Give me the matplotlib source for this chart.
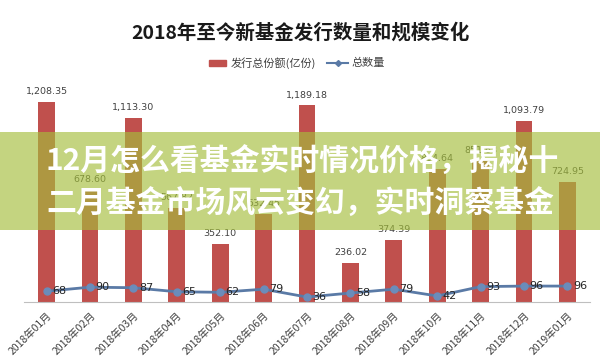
import matplotlib
matplotlib.use("Agg")
import matplotlib.pyplot as plt
from matplotlib.patches import Rectangle

plt.rcParams['font.family'] = ['Noto Sans CJK SC', 'DejaVu Sans']

months = ["2018年01月", "2018年02月", "2018年03月", "2018年04月", "2018年05月",
          "2018年06月", "2018年07月", "2018年08月", "2018年09月", "2018年10月",
          "2018年11月", "2018年12月", "2019年01月"]
share_total = [1208.35, 678.60, 1113.30, 567.82, 352.10, 532.45, 1189.18,
               236.02, 374.39, 804.64, 851.68, 1093.79, 724.95]
fund_count = [68, 90, 87, 65, 62, 79, 36, 58, 79, 42, 93, 96, 96]

title = "2018年至今新基金发行数量和规模变化"
bar_label = "发行总份额(亿份)"
line_label = "总数量"
banner_lines = ["12月怎么看基金实时情况价格，揭秘十",
                "二月基金市场风云变幻，实时洞察基金"]

W, H = 600, 363
fig = plt.figure(figsize=(W / 100, H / 100), dpi=100)
fig.patch.set_facecolor("white")

ax = fig.add_axes([24 / W, 61 / H, 566 / W, 222 / H])
x = list(range(len(months)))
bar_color = "#c0504d"
line_color = "#5a7aa6"

ax.bar(x, share_total, width=0.39, color=bar_color, zorder=2)
ax.set_xlim(-0.52, len(months) - 0.48)
ax.set_ylim(0, 1341)
for xi, v in zip(x, share_total):
    ax.annotate(f"{v:,.2f}", (xi, v), xytext=(0, 4), textcoords="offset points",
                ha="center", va="bottom", fontsize=6.8, color="#404040",
                family=["DejaVu Sans"])

for s in ["top", "left", "right"]:
    ax.spines[s].set_visible(False)
ax.spines["bottom"].set_color("#bfbfbf")
ax.set_yticks([])
ax.set_xticks(x)
ax.set_xticklabels(months, rotation=45, ha="right", rotation_mode="anchor",
                   fontsize=7.5, color="#404040")
ax.tick_params(axis="x", length=0, pad=6)

ax2 = ax.twinx()
ax2.set_ylim(9, 1222)
ax2.plot(x, fund_count, color=line_color, lw=2, marker="o", ms=5,
         markerfacecolor="#6b8cba", markeredgecolor="#6b8cba", zorder=3)
for xi, v in zip(x, fund_count):
    ax2.annotate(str(v), (xi, v), xytext=(4, 0), textcoords="offset points",
                 ha="left", va="center", fontsize=8, color="#262626",
                 family=["DejaVu Sans"])
ax2.set_yticks([])
for s in ["top", "left", "right", "bottom"]:
    ax2.spines[s].set_visible(False)

fig.text(0.5, 1 - 33 / H, title, ha="center", va="center", fontsize=14,
         fontweight="bold", color="#1a1a1a")

# legend
ly = 1 - 63 / H
fig.add_artist(Rectangle((209 / W, ly - 3 / H), 17 / W, 6 / H,
                         transform=fig.transFigure, color=bar_color))
fig.text(231 / W, ly, bar_label, ha="left", va="center", fontsize=8, color="#404040")
fig.add_artist(plt.Line2D([327 / W, 348 / W], [ly, ly], transform=fig.transFigure,
                          color=line_color, lw=1.5))
fig.add_artist(plt.Line2D([337.5 / W], [ly], transform=fig.transFigure,
                          color=line_color, marker="D", ms=3))
fig.text(351 / W, ly, line_label, ha="left", va="center", fontsize=8, color="#404040")

# banner overlay
fig.add_artist(Rectangle((0, 1 - 230 / H), 1, 98 / H, transform=fig.transFigure,
                         facecolor=(165 / 255, 190 / 255, 60 / 255), alpha=0.65,
                         edgecolor="none", zorder=10))
fig.text(46 / W, 1 - 162 / H, banner_lines[0], ha="left", va="center",
         fontsize=21.5, fontweight="bold", color="white", zorder=11)
fig.text(46 / W, 1 - 204 / H, banner_lines[1], ha="left", va="center",
         fontsize=21.5, fontweight="bold", color="white", zorder=11)

fig.savefig("out.png", dpi=100, facecolor="white")
